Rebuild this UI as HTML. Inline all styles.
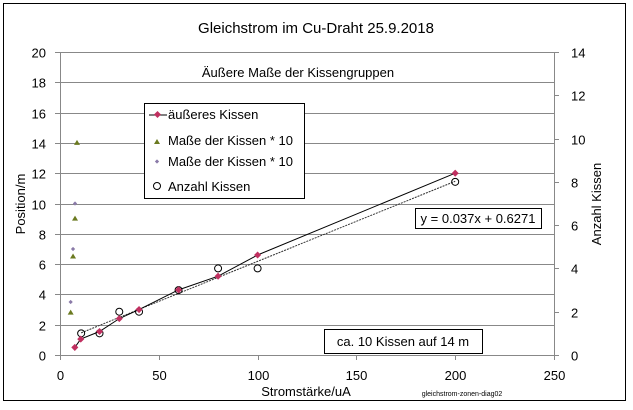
<!DOCTYPE html>
<html><head><meta charset="utf-8">
<style>
html,body{margin:0;padding:0;background:#fff;}
svg{display:block;font-family:"Liberation Sans",sans-serif;}
</style></head>
<body>
<svg id="chart" width="633" height="410" viewBox="0 0 633 410" xmlns="http://www.w3.org/2000/svg">
<rect x="3.5" y="3.5" width="622" height="397" fill="#fff" stroke="#000" stroke-width="1"/>
<text x="316" y="33" font-size="15" text-anchor="middle" fill="#000">Gleichstrom im Cu-Draht  25.9.2018</text>
<g id="grid"></g>
<g id="axes"></g>
<g id="series"></g>
<text x="298" y="77" font-size="13" text-anchor="middle">Äußere Maße der Kissengruppen</text>
<text transform="translate(25,204) rotate(-90)" font-size="13" text-anchor="middle">Position/m</text>
<text transform="translate(601,204) rotate(-90)" font-size="13" text-anchor="middle">Anzahl Kissen</text>
<text x="306" y="396" font-size="13" text-anchor="middle">Stromstärke/uA</text>
<text x="462" y="396" font-size="7" text-anchor="middle">gleichstrom-zonen-diag02</text>
<g>
<rect x="144.5" y="103.5" width="160" height="95" fill="#fff" stroke="#000"/>
<line x1="149" y1="115" x2="167" y2="115" stroke="#000"/>
<rect x="155" y="112" width="5" height="5" fill="#c03060" transform="rotate(45 157.5 114.5)"/>
<text x="168" y="119" font-size="13">äußeres Kissen</text>
<polygon points="157,139 160,144 154,144" fill="#6b7a20"/>
<text x="168" y="145" font-size="13">Maße der Kissen * 10</text>
<rect x="155.5" y="160" width="3" height="3" fill="#8a7aa8" transform="rotate(45 157 161.5)"/>
<text x="168" y="166" font-size="13">Maße der Kissen * 10</text>
<circle cx="157" cy="186" r="3.5" fill="#fff" stroke="#000"/>
<text x="168" y="191" font-size="13">Anzahl Kissen</text>
</g>
<g>
<rect x="415.5" y="208.5" width="126" height="20" fill="#fff" stroke="#000"/>
<text x="478" y="223" font-size="13" text-anchor="middle">y = 0.037x + 0.6271</text>
</g>
<g>
<rect x="324.5" y="329.5" width="158" height="24" fill="#fff" stroke="#000"/>
<text x="403" y="346" font-size="13" text-anchor="middle">ca. 10 Kissen auf 14 m</text>
</g>
</svg>
<script>
const xTicks=[0,50,100,150,200,250];
const yTicks=[0,2,4,6,8,10,12,14,16,18,20];
const y2Ticks=[0,2,4,6,8,10,12,14];
const outerX=[7.5,10.5,20,30,40,60,80,100,200];
const outerY=[0.5,1.05,1.55,2.4,3,4.3,5.2,6.6,12];
const triX=[5.4,6.6,7.6,8.6];
const triY=[2.8,6.5,9,14];
const diaX=[5.4,6.6,7.6];
const diaY=[3.5,7,10];
const cntX=[10.7,20,30,40,60,80,100,200];
const cntY=[1,1,2,2,3,4,4,8];
const trendSlope=0.037, trendIntercept=0.6271, trendFrom=10.7, trendTo=200;

const X0=60,X1=554,Y0=355,Y1=52;
const sx=v=>X0+(v-0)/250*(X1-X0);
const sy=v=>Y0-(v/20)*(Y0-Y1);
const sy2=v=>Y0-(v/14)*(Y0-Y1);
const NS="http://www.w3.org/2000/svg";
function mk(tag,attrs,parent){const e=document.createElementNS(NS,tag);for(const k in attrs)e.setAttribute(k,attrs[k]);parent.appendChild(e);return e;}
const grid=document.getElementById('grid'),axes=document.getElementById('axes'),ser=document.getElementById('series');

yTicks.forEach(t=>{
  const y=Math.round(sy(t))+0.5;
  if(t>0){const g=mk('line',{x1:X0,x2:X1,y1:y,y2:y,stroke:'#888','stroke-width':1},grid);
  
  }
  mk('line',{x1:X0-5,x2:X0,y1:y,y2:y,stroke:'#888'},axes);
  const tx=mk('text',{x:X0-14,y:y+5,'font-size':13,'text-anchor':'end'},axes);
  tx.textContent=t;
  
  
});
y2Ticks.forEach(t=>{
  const y=Math.round(sy2(t))+0.5;
  mk('line',{x1:X1,x2:X1+5,y1:y,y2:y,stroke:'#888'},axes);
  const tx=mk('text',{x:X1+17,y:y+5,'font-size':13,'text-anchor':'start'},axes);
  tx.textContent=t;
  
  
});
xTicks.forEach(t=>{
  const x=Math.round(sx(t))+0.5;
  mk('line',{x1:x,x2:x,y1:Y0,y2:Y0+5,stroke:'#888'},axes);
  const tx=mk('text',{x:x,y:Y0+25,'font-size':13,'text-anchor':'middle'},axes);
  tx.textContent=t;
  
  
});
mk('line',{x1:X0+0.5,x2:X0+0.5,y1:Y1,y2:Y0,stroke:'#888'},axes);
mk('line',{x1:X1+0.5,x2:X1+0.5,y1:Y1,y2:Y0,stroke:'#888'},axes);
mk('line',{x1:X0,x2:X1,y1:Y0+0.5,y2:Y0+0.5,stroke:'#888'},axes);

// trendline (right axis)
const tr=mk('line',{x1:sx(trendFrom),y1:sy2(trendSlope*trendFrom+trendIntercept),x2:sx(trendTo),y2:sy2(trendSlope*trendTo+trendIntercept),stroke:'#333','stroke-width':1,'stroke-dasharray':'2,1'},ser);



const pl=mk('polyline',{points:outerX.map((x,i)=>sx(x)+','+sy(outerY[i])).join(' '),fill:'none',stroke:'#000','stroke-width':1},ser);



cntX.forEach((x,i)=>{
  const c=mk('circle',{cx:sx(x),cy:sy2(cntY[i]),r:3.5,fill:'none',stroke:'#000'},ser);
  
  
});
outerX.forEach((x,i)=>{
  const cx=sx(x),cy=sy(outerY[i]);
  const r=mk('rect',{x:cx-2.5,y:cy-2.5,width:5,height:5,fill:'#c03060',transform:`rotate(45 ${cx} ${cy})`},ser);
  
  
});
triX.forEach((x,i)=>{
  const cx=sx(x),cy=sy(triY[i]);
  const p=mk('polygon',{points:`${cx},${cy-3} ${cx+3},${cy+2} ${cx-3},${cy+2}`,fill:'#6b7a20'},ser);
  
  
});
diaX.forEach((x,i)=>{
  const cx=sx(x),cy=sy(diaY[i]);
  const r=mk('rect',{x:cx-1.5,y:cy-1.5,width:3,height:3,fill:'#8a7aa8',transform:`rotate(45 ${cx} ${cy})`},ser);
  
  
});
</script>
</body></html>
